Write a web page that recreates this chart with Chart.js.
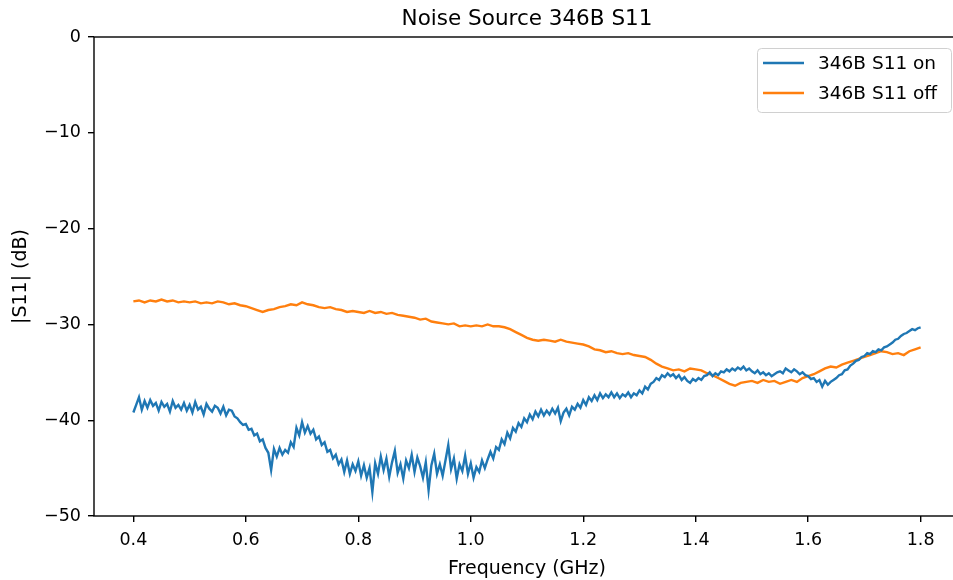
<!DOCTYPE html>
<html>
<head>
<meta charset="utf-8">
<script src="https://cdn.jsdelivr.net/npm/chart.js@4/dist/chart.umd.min.js"></script>
<style>
  html, body { margin: 0; padding: 0; overflow: hidden; background: #fff; }
  #wrap { width: 962px; height: 580px; }
</style>
</head>
<body>
<div id="wrap"><canvas id="s11-chart" width="962" height="580"></canvas></div>
<script>
const chartTitle = 'Noise Source 346B S11';
const xLabel = 'Frequency (GHz)';
const yLabel = '|S11| (dB)';
const seriesNames = ['346B S11 on', '346B S11 off'];

const xTicks = [0.4, 0.6, 0.8, 1.0, 1.2, 1.4, 1.6, 1.8];
const yTicks = [0, -10, -20, -30, -40, -50];

// sweep settings (GHz)
const onStart = 0.4, onStep = 0.005;
const offStart = 0.4, offStep = 0.01;

// |S11| on, dB, every 5 MHz from 0.4 GHz
const s11On = [
  -39.2, -38.4, -37.6, -38.9, -38.0, -38.7, -37.9, -38.5, -38.2, -39.0,
  -38.1, -38.6, -38.3, -39.1, -38.0, -38.7, -38.4, -38.9, -38.2, -39.0,
  -38.4, -39.2, -38.1, -38.9, -38.6, -39.4, -38.3, -38.8, -39.1, -38.5,
  -38.7, -39.3, -38.6, -39.5, -38.9, -39.0, -39.6, -39.8, -40.2, -40.5,
  -40.4, -41.0, -40.9, -41.6, -41.4, -42.2, -42.0, -42.9, -43.4, -45.2,
  -43.0, -43.8, -42.9, -43.6, -43.1, -43.4, -42.3, -42.8, -40.8, -41.6,
  -40.2, -41.3, -40.6, -41.4, -41.0, -42.0, -41.7, -42.6, -42.3, -43.3,
  -43.1, -44.0, -43.6, -44.6, -44.1, -45.4, -44.2, -45.6, -44.6, -45.3,
  -44.3, -45.8, -44.7, -46.0, -45.0, -47.5, -44.5, -45.6, -43.8, -45.2,
  -44.0, -45.9, -44.4, -43.2, -45.5, -44.6, -46.1, -44.2, -45.0, -43.6,
  -45.4, -43.9, -44.8, -46.0, -44.4, -47.3, -44.7, -43.5, -45.6, -44.6,
  -45.8, -44.2, -42.6, -45.1, -44.0, -46.1, -44.6, -45.3, -43.7, -45.6,
  -44.5, -46.0, -44.9, -45.4, -44.2, -45.0, -44.1, -43.3, -44.0, -42.8,
  -43.1, -42.0, -42.5, -41.3, -41.9, -40.8, -41.2, -40.3, -40.7, -39.8,
  -40.2, -39.4, -39.9, -39.1, -39.6, -38.9, -39.5, -39.0, -39.4, -38.8,
  -39.3, -38.7, -40.1, -39.2, -38.8, -39.5, -38.6, -38.9, -38.3, -38.7,
  -37.9, -38.4, -37.6, -38.0, -37.4, -37.9, -37.2, -37.7, -37.3, -37.6,
  -37.1, -37.6, -37.2, -37.7, -37.3, -37.5, -37.1, -37.6, -37.2, -37.4,
  -36.9, -37.2, -36.5, -36.8, -36.2, -36.0, -35.6, -35.8, -35.3, -35.5,
  -35.1, -35.4, -35.2, -35.6, -35.3, -35.8, -35.5, -35.9, -36.1, -35.7,
  -35.9, -35.6, -35.8, -35.4, -35.3, -35.0, -35.4, -35.1, -35.3, -34.9,
  -35.0, -34.7, -34.9, -34.6, -34.8, -34.5, -34.7, -34.4, -34.8, -34.6,
  -34.9, -35.1, -34.8, -35.2, -35.0, -35.3, -35.1, -35.4, -35.2, -35.0,
  -34.9, -35.1, -34.6, -34.8, -35.0, -34.7, -34.9, -35.2, -35.0, -35.3,
  -35.4, -35.7, -35.6, -36.0, -35.8, -36.5, -35.9, -36.3, -36.0, -35.8,
  -35.6, -35.3, -35.2, -34.8, -34.7, -34.3, -34.1, -33.8, -33.7, -33.4,
  -33.3, -33.0, -33.1, -32.8, -32.9, -32.6, -32.7, -32.4, -32.3, -32.1,
  -31.9, -31.6, -31.5, -31.2, -31.0, -30.9, -30.7, -30.5, -30.6, -30.4,
  -30.3
];

// |S11| off, dB, every 10 MHz from 0.4 GHz
const s11Off = [
  -27.6, -27.5, -27.7, -27.5, -27.6, -27.4, -27.6, -27.5, -27.7, -27.6,
  -27.7, -27.6, -27.8, -27.7, -27.8, -27.6, -27.7, -27.9, -27.8, -28.0,
  -28.1, -28.3, -28.5, -28.7, -28.5, -28.4, -28.2, -28.1, -27.9, -28.0,
  -27.7, -27.9, -28.0, -28.2, -28.3, -28.2, -28.4, -28.5, -28.7, -28.6,
  -28.7, -28.8, -28.6, -28.8, -28.7, -28.9, -28.8, -29.0, -29.1, -29.2,
  -29.3, -29.5, -29.4, -29.7, -29.8, -29.9, -30.0, -29.9, -30.2, -30.1,
  -30.2, -30.1, -30.2, -30.0, -30.2, -30.2, -30.3, -30.5, -30.8, -31.1,
  -31.4, -31.6, -31.7, -31.6, -31.7, -31.8, -31.6, -31.8, -31.9, -32.0,
  -32.1, -32.3, -32.6, -32.7, -32.9, -32.8, -33.0, -33.1, -33.0, -33.2,
  -33.3, -33.4, -33.7, -34.1, -34.4, -34.6, -34.8, -34.7, -34.9, -34.6,
  -34.7, -34.8, -35.1, -35.3, -35.6, -35.9, -36.2, -36.4, -36.1, -36.0,
  -35.9, -36.1, -35.8, -36.0, -35.9, -36.2, -36.0, -35.8, -36.0, -35.6,
  -35.4, -35.2, -34.9, -34.6, -34.4, -34.5, -34.2, -34.0, -33.8, -33.6,
  -33.4, -33.2, -33.0, -32.8, -32.9, -33.1, -33.0, -33.2, -32.8, -32.6,
  -32.4
];

const blue = '#1f77b4';
const orange = '#ff7f0e';
const fontFam = '"DejaVu Sans", sans-serif';

const toPoints = (vals, start, step) => vals.map((v, i) => ({ x: +(start + i * step).toFixed(4), y: v }));

// frame, title and legend drawn the matplotlib way
const decorations = {
    id: 'decorations',
    afterDatasetsDraw(chart) {
        const { ctx, chartArea: a } = chart;
        ctx.save();
        // legend
        const lx = 757, ly = 48, lw = 194, lh = 64;
        ctx.fillStyle = 'rgba(255,255,255,0.8)';
        ctx.strokeStyle = '#d0d0d0';
        ctx.lineWidth = 1;
        ctx.beginPath();
        ctx.roundRect(lx + 0.5, ly + 0.5, lw, lh, 4);
        ctx.fill();
        ctx.stroke();
        ctx.font = '18.5px ' + fontFam;
        ctx.textBaseline = 'middle';
        ctx.textAlign = 'left';
        chart.data.datasets.forEach((ds, i) => {
            const y = 63 + i * 30;
            ctx.strokeStyle = ds.borderColor;
            ctx.lineWidth = 2.6;
            ctx.beginPath();
            ctx.moveTo(763, y);
            ctx.lineTo(804, y);
            ctx.stroke();
            ctx.fillStyle = '#000';
            ctx.fillText(ds.label, 818, y + 1);
        });
        // frame
        ctx.strokeStyle = '#000';
        ctx.lineWidth = 1.4;
        ctx.strokeRect(a.left, a.top, a.right - a.left, a.bottom - a.top);
        // title
        ctx.font = '21.5px ' + fontFam;
        ctx.textAlign = 'center';
        ctx.textBaseline = 'alphabetic';
        ctx.fillStyle = '#000';
        ctx.fillText(chartTitle, (a.left + a.right) / 2, 25);
        ctx.restore();
    }
};

new Chart(document.getElementById('s11-chart'), {
    type: 'line',
    data: {
        datasets: [
            {
                label: seriesNames[0],
                data: toPoints(s11On, onStart, onStep),
                borderColor: blue,
                borderWidth: 2.4,
                pointRadius: 0,
                tension: 0
            },
            {
                label: seriesNames[1],
                data: toPoints(s11Off, offStart, offStep),
                borderColor: orange,
                borderWidth: 2.4,
                pointRadius: 0,
                tension: 0
            }
        ]
    },
    options: {
        responsive: false,
        animation: false,
        layout: { padding: { top: 37, right: 2, left: 0, bottom: 0 } },
        plugins: {
            legend: { display: false },
            title: { display: false },
            tooltip: { enabled: false }
        },
        scales: {
            x: {
                type: 'linear',
                min: 0.33,
                max: 1.87,
                afterFit: (s) => { s.height = 64; },
                afterBuildTicks: (s) => { s.ticks = xTicks.map(v => ({ value: v })); },
                border: { display: false },
                grid: { drawOnChartArea: false, drawTicks: true, tickLength: 6, color: '#000', lineWidth: 1.4 },
                ticks: {
                    color: '#000',
                    padding: 8,
                    maxRotation: 0,
                    font: { family: fontFam, size: 17.5 },
                    callback: (v) => Number(v).toFixed(1)
                },
                title: {
                    display: true,
                    text: xLabel,
                    color: '#000',
                    padding: { top: 3, bottom: 0 },
                    font: { family: fontFam, size: 19 }
                }
            },
            y: {
                min: -50,
                max: 0,
                afterFit: (s) => { s.width = 94; },
                afterBuildTicks: (s) => { s.ticks = yTicks.map(v => ({ value: v })); },
                border: { display: false },
                grid: { drawOnChartArea: false, drawTicks: true, tickLength: 6, color: '#000', lineWidth: 1.4 },
                ticks: {
                    color: '#000',
                    padding: 7,
                    font: { family: fontFam, size: 17.5 },
                    callback: (v) => String(v).replace('-', '\u2212')
                },
                title: {
                    display: true,
                    text: yLabel,
                    color: '#000',
                    padding: { top: 10, bottom: 0 },
                    font: { family: fontFam, size: 19 }
                }
            }
        }
    },
    plugins: [decorations]
});
</script>
</body>
</html>
